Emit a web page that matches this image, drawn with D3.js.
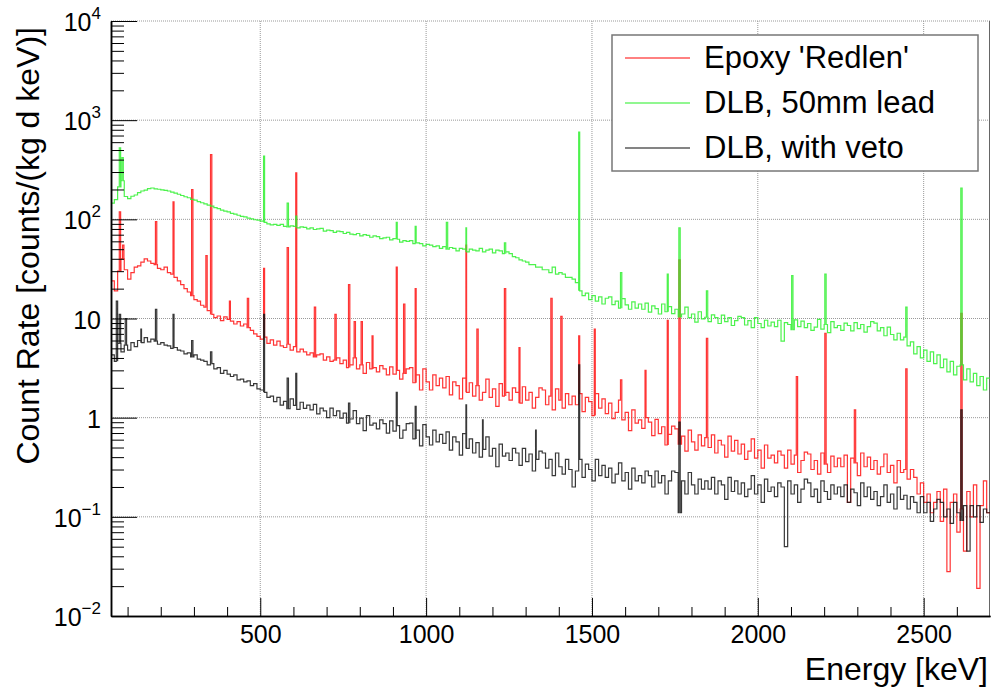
<!DOCTYPE html>
<html>
<head>
<meta charset="utf-8">
<script src="https://cdn.jsdelivr.net/npm/d3@7"></script>
<style>
  body { margin: 0; background: #fff; }
  svg { display: block; font-family: "Liberation Sans", Arial, Helvetica, sans-serif; }
</style>
</head>
<body>
<svg id="chart" width="992" height="691"></svg>
<script>
// energy binning (keV)
const binStart = 50, binEnd = 2700, binWidth = 10;

const seriesNames = ["Epoxy 'Redlen'", "DLB, 50mm lead", "DLB, with veto"];

// continuum count rates, one value per 10 keV bin starting at 50 keV (rows = 100 keV)
const redRate = [
  24, 19, 30, 40, 31, 25, 29, 33, 34, 37,
  40, 38, 36, 35, 32, 31, 33, 29, 28, 26,
  24, 22, 20, 18.5, 17, 15.5, 15, 13.6, 13, 12,
  11, 10.2, 10.6, 9.5, 10.4, 9.8, 9.4, 8.8, 9.3, 8.4,
  8.8, 8.1, 7.6, 7, 6.6, 6.2, 6.5, 5.6, 6.1, 5.4,
  5.9, 5.3, 5.1, 5.5, 4.8, 5.2, 4.6, 4.9, 4.6, 4.3,
  4.5, 4.1, 4.3, 4.4, 3.8, 4.1, 3.7, 3.8, 4, 3.5,
  3.8, 3.2, 3.4, 4.0, 3.1, 3.4, 2.8, 3.6, 3.1, 3.2,
  2.9, 3.35, 3.1, 2.7, 3.25, 2.75, 3.0, 2.45, 2.8, 3.1,
  3.2, 2.25, 2.7, 1.9, 3.1, 2.3, 1.9, 2.7, 2.1, 2.5,
  2.0, 2.6, 1.7, 2.3, 2.1, 1.55, 2.5, 1.8, 2.25, 1.65,
  2.1, 1.5, 1.8, 2.45, 1.6, 1.95, 1.3, 2.2, 1.65, 1.8,
  1.5, 2.0, 1.8, 1.4, 2.05, 1.5, 1.8, 1.25, 1.6, 2.0,
  1.9, 1.35, 1.65, 1.2, 1.95, 1.5, 1.25, 1.75, 1.35, 1.65,
  1.35, 1.75, 1.15, 1.6, 1.45, 1.05, 1.75, 1.25, 1.55, 1.1,
  1.4, 0.98, 1.13, 1.5, 0.95, 1.13, 0.74, 1.2, 0.88, 0.95,
  0.78, 1.0, 0.9, 0.66, 0.96, 0.69, 0.81, 0.53, 0.68, 0.82,
  0.77, 0.54, 0.65, 0.46, 0.75, 0.57, 0.47, 0.67, 0.52, 0.63,
  0.5, 0.67, 0.44, 0.59, 0.53, 0.4, 0.65, 0.46, 0.59, 0.43,
  0.54, 0.38, 0.46, 0.61, 0.39, 0.47, 0.31, 0.53, 0.39, 0.42,
  0.35, 0.46, 0.42, 0.31, 0.47, 0.34, 0.42, 0.28, 0.37, 0.45,
  0.43, 0.3, 0.37, 0.27, 0.44, 0.34, 0.28, 0.41, 0.32, 0.39,
  0.32, 0.42, 0.14, 0.39, 0.35, 0.26, 0.44, 0.32, 0.4, 0.3,
  0.37, 0.27, 0.32, 0.43, 0.28, 0.33, 0.22, 0.37, 0.28, 0.3,
  0.24, 0.3, 0.25, 0.17, 0.22, 0.14, 0.17, 0.11, 0.14, 0.18,
  0.09, 0.19, 0.028, 0.14, 0.17, 0.07, 0.12, 0.045, 0.18, 0.1,
  0.21, 0.019, 0.13, 0.23, 0.11
];

const greenRate = [
  146, 158, 212, 245, 170, 162, 171, 176, 186, 193,
  197, 204, 207, 203, 201, 198, 196, 193, 188, 184,
  179, 174, 169, 165, 159, 156, 151, 147, 143, 139,
  136, 131, 128, 124, 121, 119, 115, 113, 110, 107,
  106, 103, 101, 99, 98, 96, 93, 90, 88, 89,
  87, 89, 85, 84, 86, 85, 82, 84, 83, 80,
  82, 79, 80, 81, 76, 78, 77, 74, 76, 75,
  72, 74, 71, 70, 72, 68, 70, 69, 66, 68,
  67, 64, 65, 66, 62, 64, 63, 59, 61, 60,
  61, 57, 58, 57, 54, 56, 55, 53, 54, 51,
  53, 50, 52, 51, 48, 51, 50, 47, 50, 49,
  48, 51, 47, 49, 50, 46, 49, 48, 45, 47,
  45, 42, 41, 39, 38, 37, 35, 35, 33, 33,
  31, 31, 29, 33, 28, 29, 28, 26, 26, 25,
  23, 19, 17, 18, 15.5, 17, 15, 16.5, 14, 16,
  16.5, 13.8, 15, 12.7, 15.9, 13.7, 12.4, 14.7, 12.7, 14,
  12.4, 14.3, 11.6, 13.4, 12.6, 11.1, 14, 11.7, 13.2, 11.2,
  12.4, 10.4, 11.1, 13, 10.2, 11.1, 9.2, 11.7, 9.9, 10.3,
  9.3, 10.9, 10.2, 8.9, 10.8, 9.3, 10.2, 8.5, 9.5, 10.5,
  10.2, 8.6, 9.5, 8.1, 10.2, 8.9, 8.1, 9.6, 8.4, 9.2,
  8.3, 9.6, 5.9, 9.1, 8.7, 7.7, 9.7, 8.3, 9.4, 8.1,
  8.9, 7.6, 8.2, 9.8, 7.8, 8.7, 7.2, 9.3, 8.1, 8.5,
  7.6, 9, 8.5, 7.5, 9.1, 7.9, 8.7, 7.3, 8.3, 9.3,
  9, 7.5, 8.1, 6.7, 8.2, 6.9, 6.1, 7.1, 6.1, 6.5,
  5.3, 5.8, 4.4, 5.2, 4.0, 4.8, 3.7, 4.6, 3.5, 4.3,
  3.2, 3.9, 2.9, 3.7, 2.7, 3.3, 3.4, 2.4, 3.1, 2.3,
  2.8, 2.1, 2.6, 1.9, 2.5
];

const blackRate = [
  4.3, 3.7, 5.6, 4.6, 5.4, 4.8, 5.7, 5.2, 6, 5.7,
  6.4, 5.8, 6.2, 5.9, 5.5, 5.7, 5.4, 5.3, 5.0, 5.1,
  4.8, 4.7, 4.4, 4.5, 4.1, 4.3, 3.9, 3.8, 3.7, 3.4,
  3.5, 3.1, 3.2, 2.8, 3.0, 2.75, 2.6, 2.7, 2.4, 2.45,
  2.3, 2.35, 2.1, 2.2, 1.95, 1.9, 1.8, 1.6, 1.65, 1.45,
  1.6, 1.34, 1.46, 1.23, 1.55, 1.33, 1.21, 1.43, 1.24, 1.34,
  1.2, 1.36, 1.09, 1.25, 1.17, 1.0, 1.25, 1.05, 1.17, 0.99,
  1.11, 0.88, 0.97, 1.18, 0.87, 0.99, 0.74, 1.05, 0.84, 0.88,
  0.77, 0.95, 0.87, 0.7, 0.93, 0.73, 0.83, 0.62, 0.75, 0.87,
  0.88, 0.61, 0.75, 0.52, 0.85, 0.64, 0.53, 0.75, 0.57, 0.68,
  0.55, 0.72, 0.47, 0.64, 0.57, 0.42, 0.69, 0.49, 0.61, 0.44,
  0.56, 0.4, 0.48, 0.64, 0.41, 0.49, 0.32, 0.54, 0.41, 0.44,
  0.37, 0.49, 0.44, 0.33, 0.49, 0.36, 0.43, 0.29, 0.38, 0.46,
  0.44, 0.31, 0.38, 0.26, 0.44, 0.32, 0.27, 0.38, 0.3, 0.2,
  0.29, 0.38, 0.25, 0.34, 0.3, 0.23, 0.38, 0.26, 0.33, 0.25,
  0.31, 0.22, 0.27, 0.35, 0.23, 0.28, 0.19, 0.31, 0.23, 0.26,
  0.22, 0.29, 0.26, 0.2, 0.29, 0.22, 0.26, 0.17, 0.23, 0.29,
  0.28, 0.11, 0.23, 0.17, 0.28, 0.21, 0.17, 0.24, 0.19, 0.23,
  0.19, 0.25, 0.17, 0.23, 0.21, 0.15, 0.25, 0.18, 0.23, 0.17,
  0.22, 0.16, 0.19, 0.26, 0.17, 0.21, 0.14, 0.24, 0.18, 0.2,
  0.16, 0.22, 0.2, 0.05, 0.23, 0.17, 0.21, 0.14, 0.19, 0.24,
  0.22, 0.16, 0.19, 0.14, 0.23, 0.18, 0.15, 0.21, 0.17, 0.2,
  0.16, 0.21, 0.14, 0.19, 0.175, 0.13, 0.22, 0.16, 0.2, 0.15,
  0.18, 0.13, 0.16, 0.21, 0.14, 0.17, 0.12, 0.2, 0.15, 0.165,
  0.12, 0.16, 0.14, 0.11, 0.16, 0.11, 0.14, 0.09, 0.12, 0.15,
  0.14, 0.1, 0.12, 0.086, 0.14, 0.11, 0.092, 0.13, 0.045, 0.13,
  0.1, 0.13, 0.088, 0.12, 0.11
];

// gamma lines on top of the continuum: [energy keV, peak rate]
const redPeaks = [[77, 119], [87, 55], [186, 95], [239, 150], [295, 200], [338, 43], [352, 450],
  [409, 15], [463, 16], [511, 32], [583, 52], [609, 295], [665, 13], [727, 11], [768, 22],
  [785, 9.3], [806, 9.3], [839, 6.7], [911, 33], [934, 14], [969, 20], [1120, 55], [1155, 7.8],
  [1238, 20], [1281, 5.1], [1378, 16], [1408, 10.5], [1461, 6.7], [1509, 7.8], [1588, 2.4],
  [1661, 3], [1729, 9.6], [1764, 39], [1847, 6.3], [2118, 2.6], [2204, 7.1], [2293, 1.2],
  [2448, 3.1], [2614, 11.3]];
const greenPeaks = [[77, 525], [85, 420], [511, 435], [583, 146], [609, 108], [911, 93], [969, 85],
  [1063, 93], [1120, 82], [1238, 58], [1461, 760], [1588, 29], [1729, 28], [1764, 82], [1847, 19],
  [2104, 27], [2204, 28], [2448, 13], [2614, 207]];
const blackPeaks = [[68, 15], [77, 11], [95, 10], [140, 7.8], [186, 12.4], [239, 11], [295, 6],
  [352, 4.6], [511, 11], [583, 2.5], [609, 2.8], [768, 1.4], [911, 1.8], [969, 1.3], [1120, 1.35],
  [1170, 0.95], [1330, 0.75], [1461, 3.4], [1764, 0.9], [2614, 1.2]];

const xMajorTicks = [500, 1000, 1500, 2000, 2500];
const yDecades = [1e-2, 1e-1, 1, 10, 1e2, 1e3, 1e4];
const yLabels = [["10", "\u22122"], ["10", "\u22121"], ["1", ""], ["10", ""], ["10", "2"], ["10", "3"], ["10", "4"]];

const colors = ["#ff1010", "#2ef02e", "#151515"];

const margin = { top: 21, right: 2, bottom: 75, left: 111 },
    width = 992 - margin.left - margin.right,
    height = 691 - margin.top - margin.bottom;

const svg = d3.select("#chart");
const g = svg.append("g").attr("transform", `translate(${margin.left},${margin.top})`);

const x = d3.scaleLinear().domain([binStart, binEnd]).range([0, width]);
const y = d3.scaleLog().domain([1e-2, 1e4]).range([height, 0]);

const binLow = d3.range(binStart, binEnd, binWidth);

// grid
g.append("g").selectAll("line")
    .data(xMajorTicks)
    .join("line")
    .attr("x1", d => x(d)).attr("x2", d => x(d))
    .attr("y1", 0).attr("y2", height)
    .attr("stroke", "#999").attr("stroke-dasharray", "1,1");
g.append("g").selectAll("line")
    .data(yDecades.slice(1))
    .join("line")
    .attr("x1", 0).attr("x2", width)
    .attr("y1", d => y(d)).attr("y2", d => y(d))
    .attr("stroke", "#999").attr("stroke-dasharray", "1,1");

// right frame edge
g.append("line")
    .attr("x1", width - 0.5).attr("x2", width - 0.5)
    .attr("y1", 0).attr("y2", height)
    .attr("stroke", "#666");

// histograms: step outline, each gamma line drawn as a narrow spike inside its bin
function stepPoints(values, peaks) {
    const pts = [];
    binLow.forEach((lo, i) => {
        const hi = lo + binWidth, v = values[i];
        pts.push([lo, v]);
        peaks.filter(p => p[0] >= lo && p[0] < hi)
            .sort((a, b) => a[0] - b[0])
            .forEach(p => {
                const a = Math.max(lo, p[0] - 2), b = Math.min(hi, p[0] + 2);
                pts.push([a, v], [a, p[1]], [b, p[1]], [b, v]);
            });
        pts.push([hi, v]);
    });
    return pts;
}

svg.append("defs").append("clipPath").attr("id", "plot-clip")
    .append("rect").attr("width", width).attr("height", height);

const line = d3.line()
    .x(d => x(d[0]))
    .y(d => y(Math.max(d[1], 0.005)));

const series = [
    { values: redRate, peaks: redPeaks, color: colors[0] },
    { values: greenRate, peaks: greenPeaks, color: colors[1] },
    { values: blackRate, peaks: blackPeaks, color: colors[2] }
];

g.append("g").attr("clip-path", "url(#plot-clip)")
    .selectAll("path")
    .data(series)
    .join("path")
    .attr("d", d => line(stepPoints(d.values, d.peaks)))
    .attr("fill", "none")
    .attr("stroke", d => d.color)
    .attr("stroke-width", 1.2)
    .attr("stroke-opacity", 0.85);

// x axis
const xAxis = g.append("g").attr("transform", `translate(0,${height})`);
xAxis.call(d3.axisBottom(x).tickValues(xMajorTicks).tickSize(-18).tickSizeOuter(0)
    .tickPadding(9).tickFormat(d3.format("d")));
xAxis.append("g").call(d3.axisBottom(x)
    .tickValues(d3.range(100, binEnd, 100).filter(v => v % 500 !== 0))
    .tickSize(-9).tickSizeOuter(0).tickFormat(""));
xAxis.selectAll(".domain").attr("stroke", "#000").attr("stroke-width", 1.5);
xAxis.selectAll("text").attr("font-size", 25).attr("fill", "#000")
    .attr("font-family", "Liberation Sans, Arial, sans-serif");

// y axis
const yAxis = g.append("g");
yAxis.call(d3.axisLeft(y).tickValues(yDecades).tickSize(-26).tickSizeOuter(0).tickFormat(""));
yAxis.append("g").call(d3.axisLeft(y)
    .tickValues(y.ticks().filter(v => !yDecades.some(dv => Math.abs(dv - v) / dv < 1e-6)))
    .tickSize(-13).tickSizeOuter(0).tickFormat(""));
yAxis.selectAll(".domain").attr("stroke", "#000").attr("stroke-width", 1.5);

const yLab = g.append("g").selectAll("text")
    .data(yDecades)
    .join("text")
    .attr("x", -10)
    .attr("y", d => y(d) + 10)
    .attr("text-anchor", "end")
    .attr("font-size", 25);
yLab.append("tspan").text((d, i) => yLabels[i][0]);
yLab.append("tspan")
    .attr("font-size", 17)
    .attr("dy", -12)
    .text((d, i) => yLabels[i][1]);

// axis titles
svg.append("text")
    .attr("x", 988).attr("y", 680)
    .attr("text-anchor", "end")
    .attr("font-size", 32)
    .text("Energy [keV]");

svg.append("text")
    .attr("transform", "translate(39,27) rotate(-90)")
    .attr("text-anchor", "end")
    .attr("font-size", 32)
    .text("Count Rate [counts/(kg d keV)]");

// legend
const legend = svg.append("g");
legend.append("rect")
    .attr("x", 612).attr("y", 35).attr("width", 366).attr("height", 136)
    .attr("fill", "#fff").attr("stroke", "#777").attr("stroke-width", 1.5);
const rows = legend.selectAll("g.row")
    .data(seriesNames)
    .join("g")
    .attr("class", "row")
    .attr("transform", (d, i) => `translate(0,${58 + i * 45})`);
rows.append("line")
    .attr("x1", 625).attr("x2", 690)
    .attr("stroke", (d, i) => colors[i])
    .attr("stroke-width", 1.5)
    .attr("stroke-opacity", 0.7);
rows.append("text")
    .attr("x", 704).attr("y", 10)
    .attr("font-size", 31)
    .text(d => d);
</script>
</body>
</html>
